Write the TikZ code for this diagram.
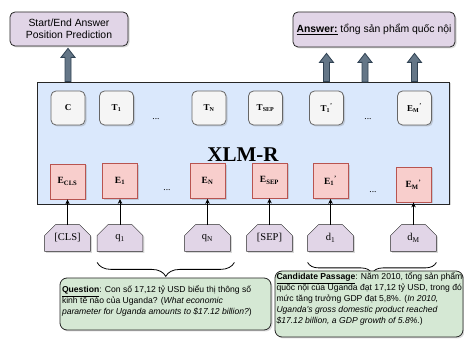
\documentclass[tikz,border=0pt]{standalone}
\usepackage{fontspec}
\setmainfont{Liberation Serif}
\setsansfont{Liberation Sans}
\usetikzlibrary{positioning, calc, backgrounds, shadows, arrows.meta, decorations.pathreplacing}
\definecolor{lilac}{HTML}{E1D5E7}
\definecolor{skyfill}{HTML}{DAE8FC}
\definecolor{hidfill}{HTML}{F5F5F5}
\definecolor{hidline}{HTML}{666666}
\definecolor{embfill}{HTML}{F8CECC}
\definecolor{embline}{HTML}{B85450}
\definecolor{txtfill}{HTML}{D5E8D4}
\definecolor{slatefill}{HTML}{647687}
\definecolor{slateline}{HTML}{314354}
\tikzset{boxshadow/.style = {drop shadow={shadow xshift=1.5pt, shadow yshift=-1.5pt, opacity=0.3}}}
\tikzset{outbox/.style = {draw=black!85, fill=lilac, rounded corners=5pt, boxshadow, align=center, font=\sffamily\fontsize{10.4}{12.5}\selectfont}}
\tikzset{encbox/.style = {draw=black!85, fill=skyfill, boxshadow}}
\tikzset{hidbox/.style = {draw=hidline, fill=hidfill, rounded corners=5pt, minimum size=34pt, inner sep=0pt, boxshadow, font=\fontsize{9}{10}\selectfont\bfseries}}
\tikzset{embbox/.style = {draw=embline, fill=embfill, minimum size=35pt, inner sep=0pt, boxshadow, font=\fontsize{9.5}{10}\selectfont\bfseries}}
\tikzset{tokbox/.style = {minimum width=45pt, minimum height=26pt, inner sep=0pt, font=\fontsize{10.5}{12}\selectfont}}
\tikzset{tokline/.style = {draw=black!85, fill=lilac, boxshadow}}
\tikzset{txtbox/.style = {draw=black!85, fill=txtfill, rounded corners=7pt, boxshadow}}
\tikzset{txtline/.style = {anchor=north west, inner sep=0pt, align=left, font=\sffamily\fontsize{8.6}{11}\selectfont}}
\tikzset{dotsep/.style = {font=\fontsize{9.5}{10}\selectfont}}
\tikzset{bracket/.style = {decorate, decoration={brace, mirror, amplitude=#1}, line width=0.8pt}}
\tikzset{fatarrow/.style = {draw=slateline, fill=slatefill, line width=0.8pt,
  to path={let \p1=(\tikztostart), \p2=(\tikztotarget) in
    (\x1-3pt,\y1) -- (\x1-3pt,\y2-9pt) -- (\x1-7pt,\y2-9pt) -- (\x1,\y2)
    -- (\x1+7pt,\y2-9pt) -- (\x1+3pt,\y2-9pt) -- (\x1+3pt,\y1) -- cycle}}}

\begin{document}
\begin{tikzpicture}[x=1pt, y=-1pt, >={Stealth[length=5pt, width=4.5pt]}, line width=0.8pt]
  \useasboundingbox (0,0) rectangle (464,344);

  % outputs
  \node [outbox, minimum width=118pt, minimum height=34pt] (pred) at (69,29) {Start/End Answer\\Position Prediction};
  \node [outbox, minimum width=162pt, minimum height=35pt] (ans) at (374,29.5) {\underline{\textbf{Answer:}} tổng sản phẩm quốc nội};

  % encoder
  \node [encbox, minimum width=412pt, minimum height=122pt] (xlmr) at (243,143) {};
  \node [font=\fontsize{21}{24}\selectfont\bfseries] (name) at (243,155) {XLM-R};

  \node [hidbox] (c) at (68,108) {C};
  \node [hidbox] (t1) at (116.5,108) {T\textsubscript{1}};
  \node [hidbox] (tn) at (209,108) {T\textsubscript{N}};
  \node [hidbox] (tsep) at (265.5,108) {T\textsubscript{SEP}};
  \node [hidbox] (t1p) at (326.5,108) {T\textsubscript{1}\textsuperscript{'}};
  \node [hidbox] (tmp) at (414.5,108) {E\textsubscript{M}\textsuperscript{'}};
  \node [dotsep] (hdots1) at (156,119) {...};
  \node [dotsep] (hdots2) at (368,119) {...};

  \node [embbox] (ecls) at (67.5,181.5) {E\textsubscript{CLS}};
  \node [embbox] (e1) at (120,181) {E\textsubscript{1}};
  \node [embbox] (en) at (207.5,181) {E\textsubscript{N}};
  \node [embbox] (esep) at (269.5,180.5) {E\textsubscript{SEP}};
  \node [embbox] (e1p) at (330.5,181) {E\textsubscript{1}\textsuperscript{'}};
  \node [embbox] (emp) at (413.5,184.5) {E\textsubscript{M}\textsuperscript{'}};
  \node [dotsep] (edots1) at (167,190) {...};
  \node [dotsep] (edots2) at (373,192) {...};

  % inputs
  \coordinate (tokrow) at (0,238);
  \node [tokbox] (cls) at (ecls |- tokrow) {[CLS]};
  \node [tokbox] (q1) at (e1 |- tokrow) {q\textsubscript{1}};
  \node [tokbox] (qn) at (en |- tokrow) {q\textsubscript{N}};
  \node [tokbox] (sep) at (esep |- tokrow) {[SEP]};
  \node [tokbox] (d1) at (e1p |- tokrow) {d\textsubscript{1}};
  \node [tokbox] (dm) at (emp |- tokrow) {d\textsubscript{M}};
  \begin{scope}[on background layer]
    \foreach \tok in {cls, q1, qn, sep, d1, dm}
      \path [tokline] (\tok.south west) -- ($(\tok.north west)+(0,11)$) -- ($(\tok.north west)+(11,0)$)
        -- ($(\tok.north east)+(-11,0)$) -- ($(\tok.north east)+(0,11)$) -- (\tok.south east) -- cycle;
  \end{scope}

  \foreach \tok/\emb in {cls/ecls, q1/e1, qn/en, sep/esep, d1/e1p, dm/emp}
    \draw [->] (\tok) -- (\emb);

  % fat arrows
  \coordinate (mid) at (365,82);
  \path [fatarrow] (c |- xlmr.north) to ($(c |- pred.south)+(0,2)$);
  \path [fatarrow] (t1p |- xlmr.north) to ($(t1p |- ans.south)+(0,6)$);
  \path [fatarrow] (mid) to ($(mid |- ans.south)+(0,6)$);
  \path [fatarrow] (tmp |- xlmr.north) to ($(tmp |- ans.south)+(0,6)$);

  % question and passage
  \draw [bracket=14pt] ($(q1.south west)+(0,11)$) -- ($(qn.south east)+(4,11)$);
  \draw [bracket=11pt] ($(d1.south west)+(0,11)$) -- ($(dm.south east)+(0,11)$);

  \node [txtbox, minimum width=211pt, minimum height=52pt] (qbox) at (165.5,304) {};
  \node [txtline] (qtext) at ($(qbox.north west)+(2,8)$)
    {\underline{\textbf{Question}}: Con số 17,12 tỷ USD biểu thị thông số\\
     kinh tế nào của Uganda? (\textit{What economic}\\
     \textit{parameter for Uganda amounts to \$17.12 billion?})};

  \node [txtbox, minimum width=188pt, minimum height=66pt] (pbox) at (369,304) {};
  \node [txtline] (ptext) at ($(pbox.north west)+(1.5,2)$)
    {\underline{\textbf{Candidate Passage}}: Năm 2010, tổng sản phẩm\\
     quốc nội của Uganda đạt 17,12 tỷ USD, trong đó\\
     mức tăng trưởng GDP đạt 5,8\%. (\textit{In 2010,}\\
     \textit{Uganda's gross domestic product reached}\\
     \textit{\$17.12 billion, a GDP growth of 5.8\%.})};
\end{tikzpicture}
\end{document}
